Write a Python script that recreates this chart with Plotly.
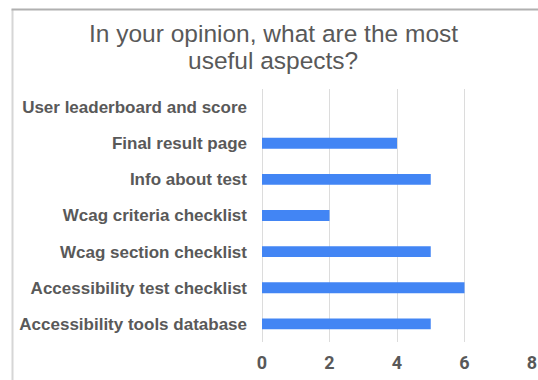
import plotly.graph_objects as go

# Survey answers: number of respondents choosing each aspect
aspects = [
    "User leaderboard and score",
    "Final result page",
    "Info about test",
    "Wcag criteria checklist",
    "Wcag section checklist",
    "Accessibility test checklist",
    "Accessibility tools database",
]
counts = [0, 4, 5, 2, 5, 6, 5]
x_ticks = [0, 2, 4, 6, 8]
title_lines = ["In your opinion, what are the most", "useful aspects?"]

W, H = 538, 380
M_L, M_R, M_T, M_B = 262, 6, 89, 38
plot_w = W - M_L - M_R
plot_h = H - M_T - M_B

BAR_BLUE = "#4285F4"
TEXT_GRAY = "#595959"
GRID_GRAY = "#dcdcdc"


def px_to_paper_x(px):
    return (px - M_L) / plot_w


def px_to_paper_y(py):
    return 1 - (py - M_T) / plot_h


fig = go.Figure(
    go.Bar(
        x=counts,
        y=aspects,
        orientation="h",
        marker=dict(color=BAR_BLUE, line=dict(width=0)),
        width=0.3,
        hoverinfo="skip",
    )
)

# chart frame (left and top edges of the card)
frame_left = 12.5
frame_top = 9.5
fig.add_shape(type="line", xref="paper", yref="paper",
              x0=px_to_paper_x(frame_left), x1=px_to_paper_x(frame_left),
              y0=px_to_paper_y(frame_top), y1=px_to_paper_y(H + 5),
              line=dict(color="#d6d6d6", width=2))
fig.add_shape(type="line", xref="paper", yref="paper",
              x0=px_to_paper_x(frame_left - 1), x1=px_to_paper_x(W + 5),
              y0=px_to_paper_y(frame_top), y1=px_to_paper_y(frame_top),
              line=dict(color="#b0b0b0", width=2))

# chart title, one annotation per line for tighter line spacing
for line, center_y in zip(title_lines, [34, 61]):
    fig.add_annotation(
        text=line,
        xref="paper", yref="paper",
        x=px_to_paper_x(273), y=px_to_paper_y(center_y),
        xanchor="center", yanchor="middle",
        showarrow=False,
        font=dict(family="Arial, Liberation Sans, sans-serif", size=24.5, color=TEXT_GRAY),
    )

fig.update_layout(
    width=W,
    height=H,
    margin=dict(l=M_L, r=M_R, t=M_T, b=M_B, autoexpand=False),
    paper_bgcolor="white",
    plot_bgcolor="white",
    showlegend=False,
    xaxis=dict(
        range=[0, 8],
        tickvals=x_ticks,
        ticktext=[str(v) for v in x_ticks],
        showgrid=True,
        gridcolor=GRID_GRAY,
        gridwidth=1,
        zeroline=True,
        zerolinecolor=GRID_GRAY,
        zerolinewidth=1,
        showline=False,
        ticks="",
        automargin=False,
        ticklabelstandoff=8,
        tickfont=dict(family="Roboto, sans-serif", size=18, color=TEXT_GRAY, weight="bold"),
        fixedrange=True,
    ),
    yaxis=dict(
        categoryorder="array",
        categoryarray=aspects,
        autorange="reversed",
        showgrid=False,
        showline=False,
        ticks="",
        automargin=False,
        ticklabelstandoff=14,
        tickfont=dict(family="Arial, Liberation Sans, sans-serif", size=17, color=TEXT_GRAY, weight="bold"),
        fixedrange=True,
    ),
)

fig.write_html("out.html")
